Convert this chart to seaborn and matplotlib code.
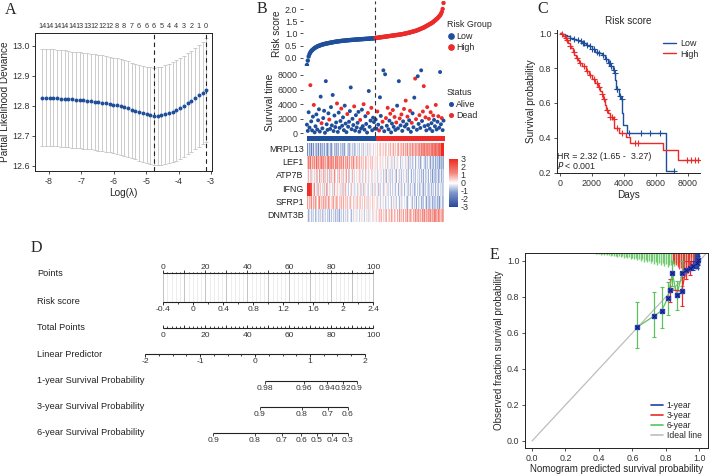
import matplotlib
matplotlib.use("Agg")
import matplotlib.pyplot as plt
from matplotlib.lines import Line2D
from matplotlib.colors import LinearSegmentedColormap, ListedColormap
from matplotlib.transforms import blended_transform_factory
import numpy as np
import pandas as pd
import seaborn as sns

# ---------------- data ----------------
# A: lasso cross-validation
log_lambda = [-8.20, -8.09, -7.97, -7.86, -7.74, -7.63, -7.51, -7.40, -7.28, -7.17,
              -7.05, -6.94, -6.82, -6.71, -6.59, -6.48, -6.36, -6.25, -6.13, -6.02,
              -5.90, -5.79, -5.68, -5.56, -5.45, -5.33, -5.22, -5.10, -4.99, -4.87,
              -4.76, -4.64, -4.53, -4.41, -4.30, -4.18, -4.07, -3.95, -3.84, -3.72,
              -3.61, -3.49, -3.38, -3.26, -3.15]
cv_mean = [12.827, 12.827, 12.826, 12.826, 12.825, 12.824, 12.823, 12.822, 12.821, 12.820,
           12.819, 12.818, 12.817, 12.815, 12.814, 12.812, 12.810, 12.808, 12.806, 12.804,
           12.801, 12.798, 12.795, 12.791, 12.787, 12.783, 12.779, 12.775, 12.771, 12.768,
           12.766, 12.766, 12.768, 12.771, 12.775, 12.780, 12.786, 12.793, 12.800, 12.808,
           12.817, 12.826, 12.835, 12.843, 12.851]
cv_upper = [12.990, 12.990, 12.989, 12.988, 12.987, 12.986, 12.985, 12.983, 12.981, 12.979,
            12.978, 12.977, 12.975, 12.974, 12.972, 12.970, 12.968, 12.966, 12.964, 12.961,
            12.958, 12.955, 12.952, 12.948, 12.944, 12.940, 12.936, 12.933, 12.930, 12.928,
            12.927, 12.928, 12.931, 12.935, 12.940, 12.946, 12.952, 12.959, 12.967, 12.975,
            12.984, 12.993, 13.003, 13.014, 13.025]
cv_lower = [12.666, 12.666, 12.665, 12.665, 12.664, 12.663, 12.662, 12.661, 12.660, 12.659,
            12.658, 12.657, 12.655, 12.654, 12.652, 12.650, 12.648, 12.646, 12.644, 12.642,
            12.639, 12.636, 12.633, 12.629, 12.625, 12.621, 12.617, 12.613, 12.609, 12.605,
            12.602, 12.601, 12.602, 12.604, 12.608, 12.612, 12.617, 12.623, 12.630, 12.638,
            12.646, 12.655, 12.663, 12.671, 12.680]
n_nonzero = [14, 14, 14, 14, 14, 13, 13, 12, 12, 12, 8, 8, 7, 6, 6, 6, 5, 4, 4, 3, 2, 1, 0]
lambda_min = -4.76
lambda_1se = -3.15

# B: risk score, survival time, status, expression
risk_low = [-0.30, -0.12, 0.05, 0.15, 0.22, 0.27, 0.31, 0.34, 0.37, 0.40,
            0.42, 0.44, 0.46, 0.48, 0.49, 0.50, 0.52, 0.53, 0.54, 0.55,
            0.56, 0.57, 0.58, 0.585, 0.59, 0.60, 0.61, 0.615, 0.62, 0.63,
            0.635, 0.64, 0.65, 0.655, 0.66, 0.665, 0.67, 0.675, 0.68, 0.685,
            0.69, 0.694, 0.698, 0.70, 0.705, 0.708, 0.712, 0.715, 0.72, 0.722,
            0.725, 0.728, 0.731, 0.734, 0.737, 0.74, 0.742, 0.745, 0.748, 0.75,
            0.753, 0.756, 0.758, 0.76, 0.763, 0.766, 0.768, 0.77, 0.773, 0.776,
            0.778, 0.78, 0.783, 0.786, 0.789, 0.791, 0.794, 0.796, 0.798, 0.80]
risk_high = [0.81, 0.815, 0.82, 0.825, 0.83, 0.835, 0.84, 0.845, 0.85, 0.855,
             0.86, 0.865, 0.87, 0.875, 0.88, 0.885, 0.89, 0.895, 0.90, 0.905,
             0.91, 0.915, 0.92, 0.925, 0.93, 0.935, 0.94, 0.945, 0.95, 0.956,
             0.962, 0.968, 0.975, 0.982, 0.99, 0.998, 1.006, 1.014, 1.022, 1.03,
             1.04, 1.05, 1.06, 1.07, 1.08, 1.09, 1.10, 1.11, 1.12, 1.135,
             1.15, 1.165, 1.18, 1.195, 1.21, 1.225, 1.24, 1.26, 1.28, 1.30,
             1.32, 1.34, 1.36, 1.38, 1.40, 1.42, 1.44, 1.47, 1.50, 1.53,
             1.56, 1.59, 1.62, 1.66, 1.70, 1.74, 1.80, 1.88, 2.0, 2.25]
surv_time = [1200, 350, 2900, 800, 6600, 1650, 420, 2300, 3900, 150,
             980, 2600, 540, 1800, 3300, 260, 5030, 1400, 700, 2100,
             3100, 90, 7150, 1250, 480, 2750, 1900, 620, 3600, 1100,
             5260, 330, 2450, 870, 1500, 4100, 210, 2850, 760, 1700,
             3400, 1050, 2200, 450, 3800, 1350, 180, 2650, 920, 1600,
             3050, 6290, 580, 2000, 1150, 3700, 380, 2500, 820, 1450,
             2950, 240, 1850, 680, 3250, 1000, 4000, 520, 2350, 1300,
             120, 2800, 5800, 900, 1750, 3500, 430, 2150, 1550, 660,
             1900, 650, 3000, 1200, 400, 4940, 2400, 800, 1600, 8630,
             300, 8090, 2100, 1050, 3500, 560, 1750, 2700, 150, 1350,
             3200, 900, 2250, 480, 1500, 3800, 700, 7150, 2050, 1100,
             2600, 350, 1650, 3350, 950, 4490, 1250, 2300, 600, 1800,
             3100, 220, 1450, 2750, 850, 4900, 7500, 1950, 500, 7820,
             1300, 2500, 750, 8630, 1700, 3000, 6470, 1000, 2200, 420,
             3600, 1150, 2000, 650, 2900, 1400, 320, 2450, 1850, 980,
             3900, 550, 1600, 2350, 780, 8400, 1250, 2100, 450, 1750]
dead = [0, 0, 0, 0, 1, 0, 0, 0, 1, 0,
        0, 0, 0, 0, 0, 0, 0, 1, 0, 0,
        0, 0, 0, 0, 0, 0, 1, 0, 0, 0,
        0, 0, 0, 0, 0, 1, 0, 0, 0, 0,
        1, 0, 0, 0, 0, 0, 0, 1, 0, 0,
        0, 0, 0, 0, 0, 1, 0, 0, 0, 0,
        0, 0, 1, 0, 0, 0, 1, 0, 0, 0,
        0, 1, 0, 0, 0, 1, 0, 0, 0, 0,
        0, 0, 1, 0, 1, 0, 0, 0, 1, 0,
        0, 0, 1, 0, 1, 0, 0, 1, 0, 0,
        1, 0, 1, 0, 1, 0, 0, 0, 1, 0,
        1, 0, 0, 1, 0, 1, 0, 1, 0, 0,
        1, 0, 1, 0, 0, 0, 1, 1, 0, 0,
        0, 1, 0, 0, 0, 1, 1, 0, 1, 0,
        1, 0, 1, 0, 1, 0, 0, 1, 0, 0,
        1, 0, 0, 1, 0, 0, 0, 1, 0, 0]
genes = ["MRPL13", "LEF1", "ATP7B", "IFNG", "SFRP1", "DNMT3B"]
expr_mrpl13 = [-0.8, -1.5, -0.3, -1.1, -0.6, -1.8, -0.4, -0.9, -1.3, -0.2, -0.7, -1.0, -0.5, -1.6, -0.8, -0.3, -1.2, -0.6, -0.9, -0.4,
               -1.1, -0.5, -0.2, -0.8, -1.4, -0.6, -0.3, -0.9, -0.7, -1.2, -0.4, -0.1, -0.8, -0.6, -1.0, -0.3, -0.5, -0.9, 0.1, -0.7,
               -0.4, -0.8, -0.2, -0.6, -1.1, -0.3, 0.0, -0.5, -0.7, -0.2, -0.9, -0.4, 0.2, -0.6, -0.3, -0.8, -0.1, -0.5, 0.1, -0.4,
               -0.2, -0.7, 0.0, -0.4, -0.3, 0.3, -0.6, -0.1, -0.3, 0.2, -0.5, 0.0, -0.2, 0.4, -0.3, -0.1, 0.1, -0.4, 0.2, 0.0,
               0.3, 0.1, 0.5, 0.0, 0.4, 0.2, 0.6, -0.1, 0.3, 0.5, 0.1, 0.7, 0.2, 0.4, 0.0, 0.6, 0.3, 0.8, 0.2, 0.5,
               0.4, 0.9, 0.3, 0.6, 0.1, 0.7, 0.5, 1.0, 0.2, 0.6, 0.8, 0.4, 1.1, 0.5, 0.3, 0.9, 0.6, 1.2, 0.4, 0.8,
               0.7, 1.0, 0.5, 1.3, 0.8, 0.6, 1.1, 0.9, 1.4, 0.7, 1.0, 1.2, 0.8, 1.5, 1.1, 0.9, 1.3, 1.6, 1.0, 1.2,
               1.4, 1.1, 1.7, 1.3, 1.0, 1.5, 1.8, 1.2, 1.6, 1.4, 1.9, 1.5, 1.3, 1.8, 2.0, 1.6, 2.2, 3.0, 3.0, 3.0]
expr_lef1 = [1.2, 0.6, 1.5, 0.9, 1.8, 0.4, 1.1, 1.6, 0.7, 1.3, 0.5, 1.9, 0.8, 1.2, 1.4, 0.6, 1.0, 1.7, 0.9, 1.3,
             0.7, 1.5, 1.0, 0.4, 1.2, 1.6, 0.8, 1.1, 0.5, 1.4, 0.9, 1.2, 0.3, 1.5, 1.0, 0.7, 1.3, 0.6, 1.1, 0.8,
             1.2, 0.5, 0.9, 1.4, 0.3, 1.0, 0.7, 1.2, 0.4, 0.8, 1.1, 0.2, 0.9, 0.6, 1.3, 0.5, 0.8, 0.3, 1.0, 0.6,
             0.4, 0.9, 0.2, 0.7, 1.1, 0.3, 0.6, 0.0, 0.8, 0.5, 0.2, 0.9, 0.4, 0.1, 0.6, 0.3, 0.7, -0.1, 0.4, 0.2,
             0.3, -0.2, 0.5, 0.0, 0.2, -0.4, 0.4, 0.1, -0.3, 0.2, 0.0, 0.5, -0.2, 0.1, -0.5, 0.3, -0.1, 0.2, -0.4, 0.0,
             -0.3, 0.2, -0.6, 0.1, -0.2, 0.4, -0.5, -0.1, 0.0, -0.7, 0.2, -0.3, -0.1, -0.6, 0.1, -0.4, -0.2, 0.3, -0.8, -0.3,
             -0.1, -0.5, 0.2, -0.7, -0.3, 0.0, -0.9, -0.2, -0.5, 0.1, -0.6, -0.3, -1.0, -0.4, 0.0, -0.7, -0.2, -0.5, -0.9, -0.3,
             -0.6, -0.1, -0.8, -0.4, -1.1, -0.3, -0.6, -0.9, -0.2, -0.7, -1.0, -0.4, -0.8, -0.5, -1.2, -0.6, -0.3, -0.9, -0.7, -1.0]
expr_atp7b = [0.4, -0.2, 0.8, 0.1, -0.5, 0.6, 0.3, 1.0, -0.1, 0.5, 0.2, -0.6, 0.7, 0.0, 0.4, 1.1, -0.3, 0.5, 0.2, 0.9,
              -0.4, 0.3, 0.6, -0.1, 0.8, 0.2, -0.7, 0.5, 0.1, 0.7, 0.3, -0.2, 1.2, 0.4, 0.0, 0.6, -0.5, 0.3, 0.9, 0.1,
              0.5, -0.3, 0.2, 0.7, -0.1, 0.4, 1.0, 0.0, -0.6, 0.3, 0.6, 0.1, -0.2, 0.8, 0.2, -0.4, 0.5, 0.0, 0.3, -0.1,
              0.2, 0.6, -0.3, 0.1, 0.4, -0.5, 0.3, 0.0, 0.7, -0.2, 0.1, 0.4, -0.4, 0.2, 0.0, 0.5, -0.3, 0.1, -0.1, 0.3,
              -0.2, 0.1, -0.5, 0.2, -0.1, -0.7, 0.3, -0.3, 0.0, -0.6, 0.2, -0.4, -0.1, -0.8, 0.1, -0.3, 0.4, -0.5, -0.2, 0.0,
              -0.6, -0.1, 0.2, -0.4, -0.9, 0.0, -0.3, 0.3, -0.5, -0.2, -0.7, 0.1, -0.4, -1.0, -0.1, 0.2, -0.6, -0.3, -0.8, 0.0,
              -0.4, -0.2, -0.9, 0.1, -0.5, -0.3, -0.7, 0.0, -1.1, -0.4, -0.2, -0.6, 0.2, -0.8, -0.3, -0.5, -1.0, -0.1, -0.6, -0.4,
              -0.2, -0.9, -0.5, 0.0, -0.7, -0.3, -1.2, -0.4, -0.6, -0.1, -0.8, -0.5, -0.3, -1.0, -0.6, -0.2, -0.7, -0.9, -0.4, -0.6]
expr_ifng = [3.0, 3.0, 2.8, 3.0, 2.6, 2.4, 0.2, -0.3, 0.5, 1.2, -0.1, 0.4, -0.5, 0.8, 0.1, -0.2, 0.6, 0.0, -0.4, 0.3,
             0.7, -0.3, 0.2, 1.0, -0.6, 0.1, 0.4, -0.2, 0.6, 0.0, -0.5, 0.3, 0.9, -0.1, 0.2, -0.4, 0.5, 0.1, -0.2, 0.4,
             -0.3, 0.6, 0.0, -0.5, 0.3, 0.8, -0.2, 0.1, -0.6, 0.4, 0.0, -0.3, 0.7, -0.1, 0.2, -0.4, 0.5, -0.2, 0.1, -0.5,
             0.3, -0.1, 0.6, -0.4, 0.0, 0.2, -0.6, 0.4, -0.2, 0.1, -0.3, 0.5, -0.5, 0.0, 0.3, -0.2, -0.6, 0.2, -0.1, 0.4,
             -0.4, 0.1, -0.2, -0.7, 0.3, -0.1, -0.5, 0.0, 0.2, -0.6, -0.3, 0.1, -0.8, -0.2, 0.4, -0.4, -0.1, -0.6, 0.0, -0.3,
             -0.5, 0.2, -0.2, -0.7, -0.1, 0.1, -0.4, -0.9, -0.2, 0.3, -0.6, -0.3, 0.0, -0.5, -0.8, -0.1, 0.2, -0.4, -0.6, -0.2,
             -0.3, -0.7, 0.1, -0.4, -0.2, -0.9, -0.5, 0.0, -0.3, -0.6, -0.1, -0.8, -0.4, 0.2, -0.5, -0.2, -1.0, -0.3, -0.6, -0.1,
             -0.4, -0.7, 0.0, -0.5, -0.2, -0.8, -0.3, -0.6, 0.1, -0.4, -0.9, -0.2, -0.5, -0.7, -0.1, -0.4, -0.8, -0.3, -0.6, -0.5]
expr_sfrp1 = [0.6, 1.0, 0.3, 0.8, 0.5, 1.2, 0.2, 0.7, 0.9, 0.4, 1.1, 0.6, 0.0, 0.8, 0.5, 1.3, 0.3, 0.7, 0.4, 1.0,
              0.5, 0.2, 0.9, 0.6, 0.3, 1.1, 0.7, 0.1, 0.8, 0.4, 0.6, 1.0, 0.2, 0.5, 0.9, 0.3, 0.7, 0.0, 0.6, 0.4,
              0.8, 0.2, 0.5, 0.9, 0.1, 0.6, 0.3, 0.7, -0.1, 0.5, 0.4, 0.8, 0.2, 0.0, 0.6, 0.3, 0.5, -0.2, 0.4, 0.7,
              0.1, 0.4, 0.6, -0.1, 0.3, 0.5, 0.0, 0.7, 0.2, -0.3, 0.4, 0.1, 0.5, -0.2, 0.3, 0.0, 0.6, 0.2, -0.1, 0.3,
              0.0, 0.3, -0.4, 0.2, -0.1, 0.4, -0.5, 0.1, 0.2, -0.3, 0.0, -0.6, 0.3, -0.2, 0.1, -0.4, 0.0, 0.2, -0.7, -0.1,
              0.1, -0.4, -0.2, 0.3, -0.6, 0.0, -0.3, -0.1, -0.8, 0.2, -0.4, -0.2, 0.0, -0.7, -0.3, 0.1, -0.5, -0.9, -0.2, 0.0,
              -0.6, -0.1, -0.3, -0.8, 0.1, -0.5, -0.2, -1.0, -0.4, 0.0, -0.6, -0.3, -0.1, -0.9, -0.5, -0.2, -0.7, 0.0, -0.4, -1.1,
              -0.3, -0.6, -0.1, -0.8, -0.4, -0.2, -1.0, -0.5, -0.7, 0.0, -0.6, -0.3, -0.9, -0.5, -1.2, -0.4, -0.7, -0.2, -0.8, -0.6]
expr_dnmt3b = [-0.6, -0.2, -0.9, -0.4, 0.1, -0.7, -0.3, -1.0, -0.5, 0.0, -0.8, -0.4, -0.1, -0.6, -1.1, -0.3, -0.5, 0.2, -0.7, -0.4,
               -0.2, -0.8, -0.5, 0.0, -0.6, -0.3, -0.9, -0.1, -0.4, -0.7, 0.1, -0.5, -0.2, -0.8, -0.3, 0.0, -0.6, -0.4, -1.0, -0.2,
               -0.5, 0.1, -0.3, -0.7, -0.1, -0.4, 0.2, -0.6, -0.2, -0.5, 0.0, -0.3, -0.8, 0.1, -0.4, -0.1, -0.6, 0.2, -0.3, -0.2,
               0.0, -0.5, -0.1, 0.3, -0.4, -0.2, 0.1, -0.6, 0.0, -0.3, 0.2, -0.1, -0.4, 0.3, -0.2, 0.0, 0.4, -0.3, 0.1, -0.1,
               0.2, 0.5, -0.1, 0.3, 0.7, 0.0, 0.4, 0.8, 0.1, 0.5, -0.2, 0.6, 0.3, 0.9, 0.0, 0.4, 0.7, 0.2, 1.0, 0.3,
               0.5, 0.1, 0.8, 0.4, 0.0, 0.9, 0.6, 0.2, 1.1, 0.4, 0.7, 0.3, 1.0, 0.5, 0.1, 0.8, 0.6, 1.2, 0.3, 0.7,
               0.4, 1.0, 0.6, 0.2, 0.9, 0.5, 1.3, 0.7, 0.3, 0.8, 1.1, 0.5, 0.9, 0.4, 1.2, 0.6, 0.8, 1.4, 0.5, 1.0,
               0.7, 1.1, 0.4, 0.9, 1.3, 0.6, 1.0, 0.8, 1.5, 0.5, 1.2, 0.9, 0.7, 1.4, 1.0, 0.6, 1.3, 0.8, 1.1, 0.9]

# C: Kaplan-Meier steps
km_low_time = [0, 150, 300, 450, 600, 800, 1000, 1200, 1400, 1600, 1800, 2000, 2200, 2400, 2600,
               2800, 3000, 3150, 3300, 3400, 3450, 3500, 3700, 3800, 3900, 3950, 4200, 6600, 7150]
km_low_surv = [1.0, 0.995, 0.99, 0.985, 0.975, 0.968, 0.96, 0.955, 0.945, 0.935, 0.925, 0.91, 0.895, 0.885, 0.875,
               0.85, 0.83, 0.81, 0.79, 0.77, 0.73, 0.68, 0.64, 0.62, 0.54, 0.475, 0.425, 0.21, 0.21]
km_high_time = [0, 100, 200, 300, 400, 500, 600, 700, 800, 900, 1000, 1100, 1200, 1400, 1600, 1800, 2000,
                2200, 2400, 2500, 2600, 2700, 2800, 2900, 3000, 3100, 3300, 3400, 3700, 4100, 4350, 6450, 7350, 8700]
km_high_surv = [1.0, 0.995, 0.985, 0.975, 0.96, 0.945, 0.93, 0.915, 0.895, 0.875, 0.86, 0.845, 0.83, 0.81, 0.785,
                0.76, 0.735, 0.715, 0.69, 0.67, 0.65, 0.62, 0.59, 0.56, 0.54, 0.52, 0.51, 0.455, 0.425, 0.405,
                0.372, 0.33, 0.273, 0.273]
cens_low = [600, 900, 1150, 1300, 1450, 1500, 1700, 1900, 2000, 2100, 2300, 2450, 2700, 2900, 3050,
            3100, 3200, 3350, 3420, 3550, 3580, 3750, 3850, 4300, 5050, 5650, 6250, 7150]
cens_high = [150, 350, 450, 650, 850, 1050, 1250, 1500, 1700, 1900, 2100, 2300, 2450, 2650, 2750,
             2950, 3150, 3250, 3350, 3550, 3900, 4700, 4900, 7950, 8200, 8450, 8650]

# D: nomogram scales (positions on the 0-100 points scale)
risk_range = [-0.4, 2.4]
risk_labels = [-0.4, 0, 0.4, 0.8, 1.2, 1.6, 2, 2.4]
lp_values = [-2, -1, 0, 1, 2]
lp_points = [-8.7, 17.5, 43.7, 69.9, 96.0]
y1_probs = [0.98, 0.96, 0.94, 0.92, 0.9]
y1_points = [48.4, 67.1, 77.8, 85.7, 92.1]
y3_probs = [0.9, 0.8, 0.7, 0.6]
y3_points = [46.0, 66.0, 78.3, 87.8]
y6_probs = [0.9, 0.8, 0.7, 0.6, 0.5, 0.4, 0.3]
y6_points = [23.8, 43.6, 56.4, 65.6, 73.2, 80.5, 87.8]

# E: calibration
cal6_pred = [0.626, 0.730, 0.775, 0.811, 0.839, 0.865, 0.899]
cal6_obs = [0.631, 0.694, 0.724, 0.793, 0.932, 0.811, 0.932]
cal6_lo = [0.515, 0.580, 0.630, 0.700, 0.860, 0.730, 0.860]
cal6_hi = [0.774, 0.826, 0.857, 0.885, 1.000, 0.890, 1.000]
cal3_pred = [0.825, 0.895, 0.920, 0.944]
cal3_obs = [0.839, 0.833, 0.950, 0.959]
cal3_lo = [0.770, 0.750, 0.900, 0.920]
cal3_hi = [0.900, 0.910, 1.000, 1.000]
cal1_pred = [0.964, 0.984, 0.994]
cal1_obs = [0.974, 0.987, 1.005]
cal1_lo = [0.950, 0.960, 0.980]
cal1_hi = [1.000, 1.010, 1.030]
fringe6_x = [0.38, 0.39, 0.40, 0.41, 0.42, 0.43, 0.44, 0.45, 0.46, 0.47,
             0.48, 0.49, 0.50, 0.51, 0.52, 0.53, 0.54, 0.55, 0.56, 0.57,
             0.58, 0.59, 0.60, 0.61, 0.62, 0.63, 0.64, 0.65, 0.66, 0.67,
             0.68, 0.69, 0.70, 0.71, 0.72, 0.73, 0.74, 0.75, 0.76, 0.77,
             0.78, 0.79, 0.80, 0.81, 0.82, 0.83, 0.84, 0.85, 0.86, 0.87,
             0.88, 0.89, 0.90, 0.91, 0.92, 0.93, 0.94, 0.95]
fringe6_lo = [1.040, 1.037, 1.039, 1.035, 1.038, 1.033, 1.036, 1.031, 1.034, 1.029,
              1.032, 1.027, 1.030, 1.024, 1.028, 1.021, 1.026, 1.018, 1.023, 1.016,
              1.020, 1.012, 1.017, 1.008, 1.014, 1.004, 1.011, 1.000, 1.008, 0.996,
              1.004, 0.992, 1.000, 0.988, 0.997, 0.984, 0.993, 0.980, 0.990, 0.976,
              0.986, 0.972, 0.983, 0.968, 0.980, 0.975, 0.985, 0.970, 0.990, 0.978,
              0.995, 0.982, 1.000, 0.990, 1.005, 0.995, 1.010, 1.020]
fringe3_x = [0.84, 0.85, 0.86, 0.87, 0.88, 0.89, 0.90, 0.91, 0.92, 0.93, 0.94, 0.95, 0.96, 0.97]
fringe3_lo = [1.000, 0.990, 0.975, 0.965, 0.955, 0.960, 0.945, 0.940, 0.950, 0.935, 0.945, 0.955, 0.960, 0.970]
fringe1_x = [0.975, 0.98, 0.985, 0.99, 0.995, 1.0]
fringe1_lo = [0.970, 0.955, 0.960, 0.950, 0.965, 0.975]

# ---------------- style ----------------
W, H = 709, 475
sns.set_style("ticks")
plt.rcParams['font.family'] = ['Liberation Sans', 'DejaVu Sans']
plt.rcParams['axes.unicode_minus'] = False
plt.rcParams['axes.linewidth'] = 0.7
plt.rcParams['xtick.major.width'] = 0.6
plt.rcParams['ytick.major.width'] = 0.6
plt.rcParams['xtick.major.size'] = 2.5
plt.rcParams['ytick.major.size'] = 2.5
plt.rcParams['xtick.major.pad'] = 1.5
plt.rcParams['ytick.major.pad'] = 1.5
plt.rcParams['xtick.color'] = '#333333'
plt.rcParams['ytick.color'] = '#333333'

blue = '#1f4e9a'
red = '#ec2a2a'
green = '#5cc35c'
tick_fs = 6.4
lab_fs = 7.2


def px_axes(fig, left, top, right, bottom):
    return fig.add_axes([left / W, 1 - bottom / H, (right - left) / W, (bottom - top) / H])


fig = plt.figure(figsize=(W / 100, H / 100), dpi=100)

for letter, x, y in [('A', 5, 10), ('B', 257, 9), ('C', 537, 9), ('D', 31, 248), ('E', 490, 255)]:
    fig.text(x / W, 1 - y / H, letter, family='Liberation Serif', fontsize=11.5, va='center', ha='left')

# ---------------- A ----------------
axA = px_axes(fig, 35, 33, 212, 171)
lam = np.array(log_lambda)
mu = np.array(cv_mean)
axA.errorbar(lam, mu, yerr=[mu - np.array(cv_lower), np.array(cv_upper) - mu], fmt='none',
             ecolor='#c4c4c4', elinewidth=0.6, capsize=1.3, capthick=0.6, zorder=1)
sns.scatterplot(x=lam, y=mu, color=blue, s=8, linewidth=0, ax=axA, zorder=3)
for v in (lambda_min, lambda_1se):
    axA.axvline(v, color='#222222', ls=(0, (4, 3)), lw=0.8)
axA.set_xlim(-8.43, -2.97)
axA.set_ylim(12.582, 13.043)
axA.set_xticks([-8, -7, -6, -5, -4, -3])
axA.set_yticks([12.6, 12.7, 12.8, 12.9, 13.0])
axA.tick_params(labelsize=tick_fs)
axA.set_xlabel('Log(λ)', fontsize=lab_fs, labelpad=2)
axA.set_ylabel('Partial Likelihood Deviance', fontsize=lab_fs, labelpad=1.5)
for sp in axA.spines.values():
    sp.set_color('#222222')
trA = blended_transform_factory(axA.transData, axA.transAxes)
for k, n in enumerate(n_nonzero):
    axA.text(log_lambda[2 * k], 1 + 6 / 138, str(n), transform=trA, ha='center', va='center',
             fontsize=5.2, color='#333333')

# ---------------- B ----------------
n_low = len(risk_low)
risk = np.array(risk_low + risk_high)
n = len(risk)
idx = np.arange(n)
group = np.where(idx < n_low, 'Low', 'High')
xl = (-4.57, 161.9)

axR = px_axes(fig, 303, 1, 446, 66)
sns.scatterplot(x=idx, y=risk, hue=group, palette={'Low': blue, 'High': red}, s=10, linewidth=0,
                legend=False, ax=axR)
axR.axvline(n_low - 0.5, color='#333333', ls=(0, (4, 3)), lw=0.8)
axR.set_xlim(*xl)
axR.set_ylim(-0.34, 2.33)
axR.set_yticks([0, 0.5, 1.0, 1.5, 2.0])
axR.set_xticks([])
axR.set_ylabel('Risk score', fontsize=lab_fs, labelpad=2)
axR.tick_params(labelsize=tick_fs)

axS = px_axes(fig, 303, 68, 446, 136)
status = np.where(np.array(dead) == 1, 'Dead', 'Alive')
df_s = pd.DataFrame({'idx': idx, 'time': surv_time, 'status': status})
sns.scatterplot(data=df_s, x='idx', y='time', hue='status', palette={'Alive': blue, 'Dead': red},
                s=8, linewidth=0, legend=False, ax=axS)
axS.axvline(n_low - 0.5, color='#333333', ls=(0, (4, 3)), lw=0.8)
axS.set_xlim(*xl)
axS.set_ylim(-350, 8950)
axS.set_yticks([0, 2000, 4000, 6000, 8000])
axS.set_xticks([])
axS.set_xlabel('')
axS.set_ylabel('Survival time', fontsize=lab_fs, labelpad=2)
axS.tick_params(labelsize=tick_fs)
for a in (axR, axS):
    for sp in a.spines.values():
        sp.set_visible(False)

axG = px_axes(fig, 306.5, 136, 444, 141.5)
axG.imshow(np.array([(idx >= n_low).astype(int)]), aspect='auto', cmap=ListedColormap([blue, red]),
           interpolation='nearest')
axG.axis('off')

axH = px_axes(fig, 306.5, 143, 444, 222)
cax = px_axes(fig, 449, 159, 458, 207)
expr = pd.DataFrame([expr_mrpl13, expr_lef1, expr_atp7b, expr_ifng, expr_sfrp1, expr_dnmt3b], index=genes)
cmap = LinearSegmentedColormap.from_list(
    'heat', [(0, '#27489a'), (0.3, '#7f97c9'), (0.5, '#ffffff'), (0.7, '#f38b82'), (1, '#ee2a22')])
sns.heatmap(expr, cmap=cmap, vmin=-3, vmax=3, ax=axH, cbar_ax=cax, xticklabels=False,
            yticklabels=genes, cbar_kws={'ticks': [-3, -2, -1, 0, 1, 2, 3]})
axH.tick_params(axis='y', length=0, pad=2, labelsize=tick_fs, labelcolor='#222222')
axH.set_yticklabels(genes, rotation=0)
axH.set_ylabel('')
cax.tick_params(length=0, pad=2, labelsize=tick_fs)
axH.collections[0].colorbar.outline.set_visible(False)

leg_kw = dict(loc='upper left', frameon=False, fontsize=6.4, title_fontsize=6.4, handletextpad=0.2,
              borderpad=0, labelspacing=0.3, alignment='left', handlelength=0.8, borderaxespad=0)
h_low = Line2D([], [], marker='o', ls='', color=blue, markersize=3.8)
h_high = Line2D([], [], marker='o', ls='', color=red, markersize=3.8)
fig.legend(handles=[h_low, h_high], labels=['Low', 'High'], title='Risk Group',
           bbox_to_anchor=(447 / W, 1 - 20 / H), **leg_kw)
h_alive = Line2D([], [], marker='o', ls='', color=blue, markersize=2.6)
h_dead = Line2D([], [], marker='o', ls='', color=red, markersize=2.6)
fig.legend(handles=[h_alive, h_dead], labels=['Alive', 'Dead'], title='Status',
           bbox_to_anchor=(447 / W, 1 - 88 / H), **leg_kw)

# ---------------- C ----------------
axC = px_axes(fig, 557, 30, 700, 173)


def surv_at(t, times, surv):
    i = np.searchsorted(times, t, side='right') - 1
    return np.array(surv)[i]


for times, surv, cens, col, lab in [(km_low_time, km_low_surv, cens_low, blue, 'Low'),
                                    (km_high_time, km_high_surv, cens_high, red, 'High')]:
    axC.step(times, surv, where='post', color=col, lw=1.0, label=lab)
    axC.plot(cens, surv_at(cens, times, surv), ls='', marker='+', color=col, markersize=4,
             markeredgewidth=0.8)
axC.set_xlim(-187, 8750)
axC.set_ylim(0.198, 1.019)
axC.set_xticks([0, 2000, 4000, 6000, 8000])
axC.set_yticks([0.2, 0.4, 0.6, 0.8, 1.0])
axC.tick_params(labelsize=tick_fs)
axC.set_title('Risk score', fontsize=lab_fs, pad=4)
axC.set_xlabel('Days', fontsize=lab_fs, labelpad=2)
axC.set_ylabel('Survival probability', fontsize=lab_fs, labelpad=2)
sns.despine(ax=axC)
for sp in axC.spines.values():
    sp.set_color('#222222')
axC.legend(loc='upper right', bbox_to_anchor=(1.02, 0.97), frameon=False, fontsize=6.4,
           handlelength=1.4, handletextpad=0.5, labelspacing=0.2, borderpad=0)
axC.text(0.0, 0.115, 'HR = 2.32 (1.65 -  3.27)', transform=axC.transAxes, fontsize=6.4, va='center')
axC.text(0.0, 0.055, '$\\it{P}$ < 0.001', transform=axC.transAxes, fontsize=6.4, va='center')

# ---------------- D ----------------
axD = px_axes(fig, 0, 240, 480, 475)
x0, sc = 163.3, 2.1
axD.set_xlim((0 - x0) / sc, (480 - x0) / sc)
axD.set_ylim(475, 240)
axD.axis('off')
ink = '#222222'
rows = {'Points': 273.3, 'Risk score': 301.7, 'Total Points': 328.0, 'Linear Predictor': 354.3,
        '1-year Survival Probability': 380.7, '3-year Survival Probability': 406.7,
        '6-year Survival Probability': 432.7}
for name, y in rows.items():
    fig.text(37 / W, 1 - y / H, name, fontsize=6.6, va='center', ha='left', color=ink)


def tick_row(y, pos, length, up, lw=0.6):
    d = -length if up else length
    axD.vlines(pos, y, y + d, color=ink, lw=lw)


def label_row(y, pos, labels, above):
    for p, s in zip(pos, labels):
        axD.text(p, y - 5.5 if above else y + 7.5, s, ha='center', va='center', fontsize=6.1, color='#333333')


# grid between Points and Risk score
minor = np.arange(0, 101, 2)
axD.vlines(minor, rows['Points'], rows['Risk score'], color='#e6e6e6', lw=0.5)
axD.vlines(np.arange(0, 101, 10), rows['Points'], rows['Risk score'], color='#bdbdbd', lw=0.6)

# points
y = rows['Points']
axD.hlines(y, 0, 100, color=ink, lw=0.8)
tick_row(y, minor, 1.5, True)
tick_row(y, np.arange(0, 101, 10), 3, True)
label_row(y, np.arange(0, 101, 20), [str(v) for v in range(0, 101, 20)], True)

# risk score
y = rows['Risk score']
risk_to_pts = lambda r: np.interp(r, risk_range, [0, 100])
axD.hlines(y, 0, 100, color=ink, lw=0.8)
tick_row(y, risk_to_pts(np.arange(-0.4, 2.41, 0.2)), 2, False)
tick_row(y, risk_to_pts(risk_labels), 3, False)
label_row(y, risk_to_pts(risk_labels), [f"{v:g}" for v in risk_labels], False)

# total points
y = rows['Total Points']
axD.hlines(y, 0, 100, color=ink, lw=0.8)
tick_row(y, minor, 1.5, True)
tick_row(y, np.arange(0, 101, 10), 2.5, True)
label_row(y, np.arange(0, 101, 20), [str(v) for v in range(0, 101, 20)], False)

# linear predictor
y = rows['Linear Predictor']
lp_minor = np.interp(np.arange(-2, 2.01, 0.25), lp_values, lp_points)
axD.hlines(y, lp_points[0], lp_points[-1], color=ink, lw=0.8)
tick_row(y, lp_minor, 2, False)
tick_row(y, lp_points, 3, False)
label_row(y, lp_points, [str(v) for v in lp_values], False)

# survival probabilities
for key, probs, pts in [('1-year Survival Probability', y1_probs, y1_points),
                        ('3-year Survival Probability', y3_probs, y3_points),
                        ('6-year Survival Probability', y6_probs, y6_points)]:
    y = rows[key]
    axD.hlines(y, pts[0], pts[-1], color=ink, lw=0.8)
    tick_row(y, pts, 3, False)
    label_row(y, pts, [f"{v:g}" for v in probs], False)

# ---------------- E ----------------
axE = px_axes(fig, 525, 253, 708, 448)
axE.plot([0, 1.1], [0, 1.1], color='#bdbdbd', lw=0.9, label='Ideal line', zorder=1)
axE.vlines(fringe6_x, fringe6_lo, 1.1, color=green, lw=1.0, alpha=0.85, zorder=2)
axE.vlines(fringe3_x, fringe3_lo, 1.1, color=red, lw=1.0, alpha=0.85, zorder=2)
axE.vlines(fringe1_x, fringe1_lo, 1.1, color='#1f3f9f', lw=1.0, alpha=0.9, zorder=2)
for xs, ys, lo, hi, col in [(cal6_pred, cal6_obs, cal6_lo, cal6_hi, green),
                            (cal3_pred, cal3_obs, cal3_lo, cal3_hi, red),
                            (cal1_pred, cal1_obs, cal1_lo, cal1_hi, '#1f3f9f')]:
    ys_a = np.array(ys)
    axE.errorbar(xs, ys, yerr=[ys_a - np.array(lo), np.array(hi) - ys_a], color=col, lw=0.9,
                 elinewidth=0.9, capsize=1.5, capthick=0.8, zorder=3)
    axE.plot(xs, ys, ls='', marker='s', markersize=3.2, color='#2a48d0', zorder=4)
    axE.plot(xs, ys, ls='', marker='x', markersize=2.6, color='#161650', mew=0.6, zorder=5)
axE.set_xlim(-0.042, 1.052)
axE.set_ylim(-0.039, 1.044)
axE.set_xticks([0, 0.2, 0.4, 0.6, 0.8, 1.0])
axE.set_yticks([0, 0.2, 0.4, 0.6, 0.8, 1.0])
axE.tick_params(labelsize=tick_fs)
axE.set_xlabel('Nomogram predicted survival probability', fontsize=7, labelpad=1)
axE.set_ylabel('Observed fraction survival probability', fontsize=7, labelpad=2)
for sp in axE.spines.values():
    sp.set_color('#222222')
e_handles = [Line2D([], [], color='#1f3f9f', lw=1.2), Line2D([], [], color=red, lw=1.2),
             Line2D([], [], color=green, lw=1.2), Line2D([], [], color='#bdbdbd', lw=1.2)]
axE.legend(e_handles, ['1-year', '3-year', '6-year', 'Ideal line'], loc='lower right',
           bbox_to_anchor=(0.99, 0.02), frameon=False, fontsize=6.2, handlelength=1.3,
           handletextpad=0.5, labelspacing=0.12, borderpad=0)

fig.savefig('out.png', dpi=100)
